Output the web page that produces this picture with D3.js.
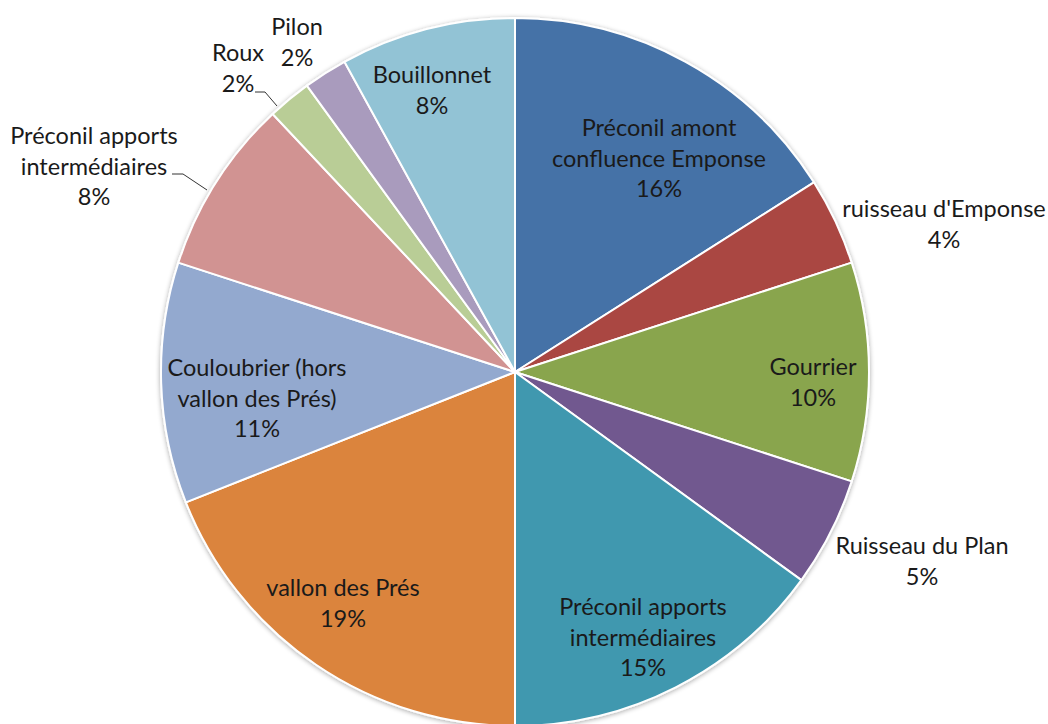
<!DOCTYPE html>
<html>
<head>
<meta charset="utf-8">
<script src="https://cdn.jsdelivr.net/npm/d3@7"></script>
<style>
  html, body { margin: 0; padding: 0; background: #fff; }
  svg { display: block; }
  text { font-family: Lato, "Open Sans", sans-serif; font-size: 23.5px; fill: #1a1a1a; }
</style>
</head>
<body>
<svg id="chart" width="1048" height="724"></svg>
<script>
// Catchment shares (percent), clockwise from 12 o'clock
const categories = [
  "Préconil amont confluence Emponse",
  "ruisseau d'Emponse",
  "Gourrier",
  "Ruisseau du Plan",
  "Préconil apports intermédiaires",
  "vallon des Prés",
  "Couloubrier (hors vallon des Prés)",
  "Préconil apports intermédiaires",
  "Roux",
  "Pilon",
  "Bouillonnet"
];
const values = [16, 4, 10, 5, 15, 19, 11, 8, 2, 2, 8];
const colors = [
  "#4572A7", "#AA4643", "#89A54E", "#71588F", "#4198AF", "#DB843D",
  "#93A9CF", "#D19392", "#B9CD96", "#A99BBD", "#92C3D5"
];
// How each label is broken into lines
const labelLines = [
  ["Préconil amont", "confluence Emponse"],
  ["ruisseau d'Emponse"],
  ["Gourrier"],
  ["Ruisseau du Plan"],
  ["Préconil apports", "intermédiaires"],
  ["vallon des Prés"],
  ["Couloubrier (hors", "vallon des Prés)"],
  ["Préconil apports", "intermédiaires"],
  ["Roux"],
  ["Pilon"],
  ["Bouillonnet"]
];

// Layout: label centre (x, y of first line) and optional leader line
const labelLayout = [
  { x: 659, y: 127 },
  { x: 944, y: 208 },
  { x: 813, y: 366 },
  { x: 922, y: 545 },
  { x: 643, y: 606 },
  { x: 343, y: 587 },
  { x: 257, y: 367 },
  { x: 94,  y: 135, leader: [[172, 174], [183, 174], [207, 190]] },
  { x: 238, y: 52, leader: [[255, 92], [265, 92], [277, 106]] },
  { x: 297, y: 26 },
  { x: 432, y: 74 }
];

const cx = 515, cy = 372, R = 354, lineH = 30.5;

const svg = d3.select("#chart");
const defs = svg.append("defs");
const f = defs.append("filter").attr("id", "soft").attr("x", "-5%").attr("y", "-5%").attr("width", "110%").attr("height", "110%");
f.append("feGaussianBlur").attr("in", "SourceAlpha").attr("stdDeviation", 2.5).attr("result", "b");
f.append("feOffset").attr("in", "b").attr("dx", 0).attr("dy", 1).attr("result", "o");
f.append("feComponentTransfer").attr("in", "o").attr("result", "s")
  .append("feFuncA").attr("type", "linear").attr("slope", 0.35);
const m = f.append("feMerge");
m.append("feMergeNode").attr("in", "s");
m.append("feMergeNode").attr("in", "SourceGraphic");

const pie = d3.pie().value(d => d).sort(null);
const arcs = pie(values);
const arc = d3.arc().innerRadius(0).outerRadius(R);

const g = svg.append("g").attr("transform", `translate(${cx},${cy})`).attr("filter", "url(#soft)");
g.selectAll("path")
  .data(arcs)
  .join("path")
  .attr("d", arc)
  .attr("fill", (d, i) => colors[i])
  .attr("stroke", "#fff")
  .attr("stroke-width", 2)
  .attr("stroke-linejoin", "round");

// Leader lines
labelLayout.forEach(l => {
  if (l.leader) {
    svg.append("path")
      .attr("d", d3.line()(l.leader))
      .attr("fill", "none")
      .attr("stroke", "#333")
      .attr("stroke-width", 1);
  }
});

// Labels
const labels = svg.append("g");
arcs.forEach((a, i) => {
  const l = labelLayout[i];
  const lines = labelLines[i];
  const pct = Math.round(values[i] / d3.sum(values) * 100) + "%";
  const t = labels.append("text")
    .attr("text-anchor", "middle")
    .attr("dominant-baseline", "central");
  lines.forEach((s, k) => {
    t.append("tspan").attr("x", l.x).attr("y", l.y + k * lineH).text(s);
  });
  t.append("tspan").attr("x", l.pctX ?? l.x).attr("y", l.y + lines.length * lineH).text(pct);
});
</script>
</body>
</html>
